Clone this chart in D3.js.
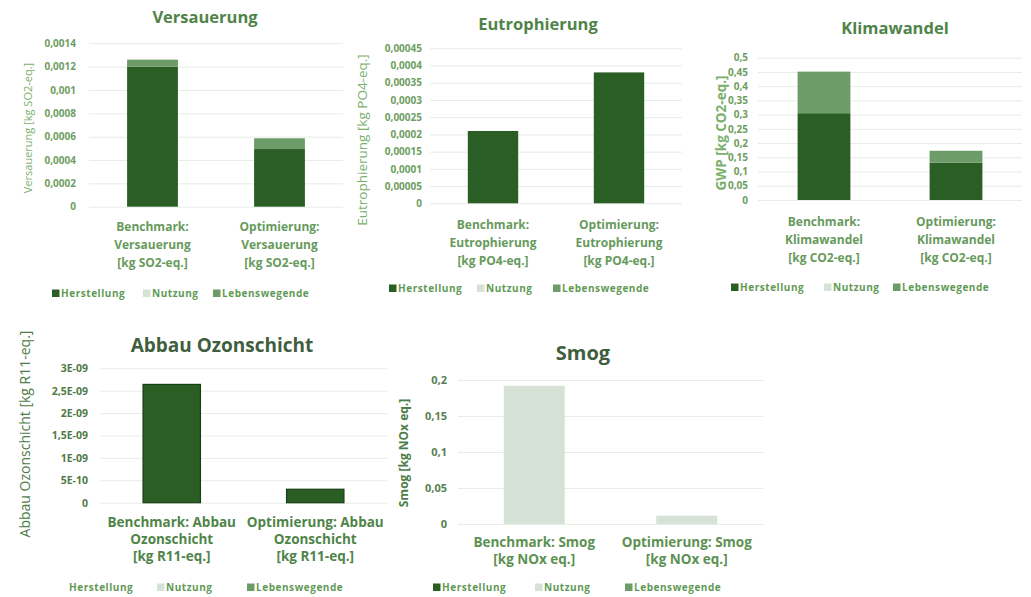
<!DOCTYPE html>
<html><head><meta charset="utf-8">
<script src="https://cdn.jsdelivr.net/npm/d3@7"></script>
<style>
html,body{margin:0;padding:0;background:#fff;}
svg{display:block;font-family:"Open Sans",sans-serif;}
</style></head>
<body>
<svg id="c" width="1031" height="597"></svg>
<script>
// ---------- DATA ----------
const seriesNames = ["Herstellung", "Nutzung", "Lebenswegende"];

const versauerungTitle = "Versauerung";
const versauerungAxisTitle = "Versauerung [kg SO2-eq.]";
const versauerungCategories = [["Benchmark:", "Versauerung", "[kg SO2-eq.]"], ["Optimierung:", "Versauerung", "[kg SO2-eq.]"]];
const versauerungHerstellung = [0.0012, 0.000494];
const versauerungNutzung = [0, 0];
const versauerungLebenswegende = [0.00006, 0.000092];
const versauerungTickValues = [0, 0.0002, 0.0004, 0.0006, 0.0008, 0.001, 0.0012, 0.0014];
const versauerungTickLabels = ["0", "0,0002", "0,0004", "0,0006", "0,0008", "0,001", "0,0012", "0,0014"];

const eutroTitle = "Eutrophierung";
const eutroAxisTitle = "Eutrophierung [kg PO4-eq.]";
const eutroCategories = [["Benchmark:", "Eutrophierung", "[kg PO4-eq.]"], ["Optimierung:", "Eutrophierung", "[kg PO4-eq.]"]];
const eutroHerstellung = [0.00021, 0.00038];
const eutroNutzung = [0, 0];
const eutroLebenswegende = [0, 0];
const eutroTickValues = [0, 0.00005, 0.0001, 0.00015, 0.0002, 0.00025, 0.0003, 0.00035, 0.0004, 0.00045];
const eutroTickLabels = ["0", "0,00005", "0,0001", "0,00015", "0,0002", "0,00025", "0,0003", "0,00035", "0,0004", "0,00045"];

const klimaTitle = "Klimawandel";
const klimaAxisTitle = "GWP [kg CO2-eq.]";
const klimaCategories = [["Benchmark:", "Klimawandel", "[kg CO2-eq.]"], ["Optimierung:", "Klimawandel", "[kg CO2-eq.]"]];
const klimaHerstellung = [0.305, 0.131];
const klimaNutzung = [0, 0];
const klimaLebenswegende = [0.146, 0.042];
const klimaTickValues = [0, 0.05, 0.1, 0.15, 0.2, 0.25, 0.3, 0.35, 0.4, 0.45, 0.5];
const klimaTickLabels = ["0", "0,05", "0,1", "0,15", "0,2", "0,25", "0,3", "0,35", "0,4", "0,45", "0,5"];

const ozonTitle = "Abbau Ozonschicht";
const ozonAxisTitle = "Abbau Ozonschicht [kg R11-eq.]";
const ozonCategories = [["Benchmark: Abbau", "Ozonschicht", "[kg R11-eq.]"], ["Optimierung: Abbau", "Ozonschicht", "[kg R11-eq.]"]];
const ozonHerstellung = [2.64e-9, 3.0e-10];
const ozonNutzung = [0, 0];
const ozonLebenswegende = [0, 0];
const ozonTickValues = [0, 5e-10, 1e-9, 1.5e-9, 2e-9, 2.5e-9, 3e-9];
const ozonTickLabels = ["0", "5E-10", "1E-09", "1,5E-09", "2E-09", "2,5E-09", "3E-09"];

const smogTitle = "Smog";
const smogAxisTitle = "Smog [kg NOx eq.]";
const smogCategories = [["Benchmark: Smog", "[kg NOx eq.]"], ["Optimierung: Smog", "[kg NOx eq.]"]];
const smogHerstellung = [0, 0];
const smogNutzung = [0.192, 0.0116];
const smogLebenswegende = [0, 0];
const smogTickValues = [0, 0.05, 0.1, 0.15, 0.2];
const smogTickLabels = ["0", "0,05", "0,1", "0,15", "0,2"];

// ---------- STYLE ----------
const seriesColors = ["#2a5e25", "#d6e2d5", "#6e9c68"];

const svg = d3.select("#c");

function drawChart(data, lay) {
  const g = svg.append("g");
  const x = d3.scaleBand().domain(d3.range(data.categories.length))
    .range([lay.x0, lay.x1]).paddingInner(0.6).paddingOuter(0.3);
  const y = d3.scaleLinear().domain([0, data.tickValues[data.tickValues.length - 1]]).range([lay.yb, lay.yt]);

  // gridlines
  g.append("g").attr("transform", `translate(${lay.x0},0)`)
    .call(d3.axisLeft(y).tickValues(data.tickValues).tickSize(-(lay.x1 - lay.x0)).tickFormat(""))
    .call(s => s.select(".domain").remove())
    .call(s => s.selectAll("line").attr("stroke", lay.gridColor).attr("stroke-width", 1));

  // tick labels
  g.append("g").attr("transform", `translate(${lay.tickRight},0)`)
    .call(d3.axisLeft(y).tickValues(data.tickValues).tickSize(0).tickPadding(0)
      .tickFormat((d, i) => data.tickLabels[i]))
    .call(s => s.select(".domain").remove())
    .call(s => s.selectAll("text").attr("fill", lay.tickColor)
      .style("font-size", lay.tickSize + "px").style("font-weight", "700")
      .style("font-family", "'Open Sans',sans-serif"));

  // stacked bars
  const rows = data.categories.map((c, i) => ({ i, v: data.series.map(s => s[i]) }));
  const stack = d3.stack().keys(d3.range(data.series.length)).value((d, k) => d.v[k]);
  const layers = stack(rows);
  layers.forEach((layer, k) => {
    g.append("g").selectAll("rect").data(layer.filter(d => d[1] - d[0] > 0)).join("rect")
      .attr("x", d => x(d.data.i))
      .attr("width", x.bandwidth())
      .attr("y", d => y(d[1]))
      .attr("height", d => y(d[0]) - y(d[1]))
      .attr("fill", seriesColors[k])
      .attr("stroke", lay.barStroke || "none")
      .attr("stroke-width", lay.barStroke ? 1.2 : 0);
  });

  // category labels
  data.categories.forEach((lines, i) => {
    const t = g.append("text").attr("text-anchor", "middle")
      .attr("fill", lay.catColor).style("font-size", lay.catSize + "px").style("font-weight", "700");
    lines.forEach((ln, j) => {
      t.append("tspan").attr("x", x(i) + x.bandwidth() / 2).attr("y", lay.catY + j * lay.catLine).text(ln);
    });
  });

  // title
  g.append("text").attr("x", lay.titleX).attr("y", lay.titleY).attr("text-anchor", "middle")
    .attr("fill", lay.titleColor).style("font-size", lay.titleSize + "px").style("font-weight", "700")
    .text(data.title);

  // axis title
  g.append("text").attr("transform", `translate(${lay.axX},${lay.axY}) rotate(-90)`)
    .attr("text-anchor", "middle").attr("fill", lay.axColor)
    .style("font-size", lay.axSize + "px").style("font-weight", lay.axWeight)
    .text(data.axisTitle);

  // legend
  seriesNames.forEach((name, k) => {
    const lx = lay.legendX[k];
    if (!(lay.hideSquare && lay.hideSquare[k])) {
      g.append("rect").attr("x", lx).attr("y", lay.legendY - 7.5).attr("width", 7.5).attr("height", 7.5)
        .attr("fill", seriesColors[k]);
    }
    g.append("text").attr("x", lx + 9).attr("y", lay.legendY)
      .attr("fill", lay.legendColor).style("font-size", "10px").style("font-weight", "700")
      .style("letter-spacing", "0.55px").text(name);
  });
}

const topStyle = {
  gridColor: "#e6ece6", tickColor: "#6e9e61", tickSize: 10, catColor: "#679a5c", catSize: 12, catLine: 18,
  titleColor: "#4f8449", titleSize: 16.5, axColor: "#7bb06c", axSize: 11, axWeight: "400", legendColor: "#5f9a55"
};

drawChart({
  title: versauerungTitle, axisTitle: versauerungAxisTitle, categories: versauerungCategories,
  series: [versauerungHerstellung, versauerungNutzung, versauerungLebenswegende],
  tickValues: versauerungTickValues, tickLabels: versauerungTickLabels
}, Object.assign({}, topStyle, {
  x0: 89, x1: 343, yt: 43.3, yb: 206.7, tickRight: 76, catY: 231,
  titleX: 205, titleY: 23, axX: 32, axY: 128, legendX: [52, 143, 213], legendY: 297
}));

drawChart({
  title: eutroTitle, axisTitle: eutroAxisTitle, categories: eutroCategories,
  series: [eutroHerstellung, eutroNutzung, eutroLebenswegende],
  tickValues: eutroTickValues, tickLabels: eutroTickLabels
}, Object.assign({}, topStyle, {
  x0: 430, x1: 682, yt: 48.3, yb: 203.3, tickRight: 422, catY: 229,
  titleX: 538, titleY: 30, axX: 367, axY: 140, axSize: 13.5, legendX: [389, 477, 553], legendY: 292
}));

drawChart({
  title: klimaTitle, axisTitle: klimaAxisTitle, categories: klimaCategories,
  series: [klimaHerstellung, klimaNutzung, klimaLebenswegende],
  tickValues: klimaTickValues, tickLabels: klimaTickLabels
}, Object.assign({}, topStyle, {
  x0: 758, x1: 1022, yt: 57.7, yb: 200, tickRight: 748, catY: 226,
  titleX: 895, titleY: 34, axX: 726, axY: 133, axSize: 13.5, axWeight: "700", legendX: [731, 824, 893], legendY: 291
}));

drawChart({
  title: ozonTitle, axisTitle: ozonAxisTitle, categories: ozonCategories,
  series: [ozonHerstellung, ozonNutzung, ozonLebenswegende],
  tickValues: ozonTickValues, tickLabels: ozonTickLabels
}, Object.assign({}, topStyle, {
  x0: 100, x1: 387, yt: 368.3, yb: 502.7, tickRight: 88, tickSize: 10.5, catY: 527, catLine: 17, catSize: 13.5,
  catColor: "#4f8449", tickColor: "#4f7a48", titleColor: "#3f5e3d", titleSize: 19,
  axColor: "#4d7d47", axSize: 14, barStroke: "#173d14",
  titleX: 222, titleY: 352, axX: 30, axY: 434, legendX: [60, 157, 247], legendY: 591, hideSquare: [true, false, false]
}));

drawChart({
  title: smogTitle, axisTitle: smogAxisTitle, categories: smogCategories,
  series: [smogHerstellung, smogNutzung, smogLebenswegende],
  tickValues: smogTickValues, tickLabels: smogTickLabels
}, Object.assign({}, topStyle, {
  x0: 458, x1: 763, yt: 380, yb: 524, tickRight: 447, tickSize: 11, catY: 547, catLine: 17, catSize: 13.5,
  catColor: "#5c9152", tickColor: "#587f51", titleColor: "#3f5e3d", titleSize: 20,
  axColor: "#4d7d47", axSize: 12, axWeight: "700",
  titleX: 583, titleY: 360, axX: 408, axY: 453, legendX: [433, 535, 625], legendY: 591
}));
</script>
</body></html>
